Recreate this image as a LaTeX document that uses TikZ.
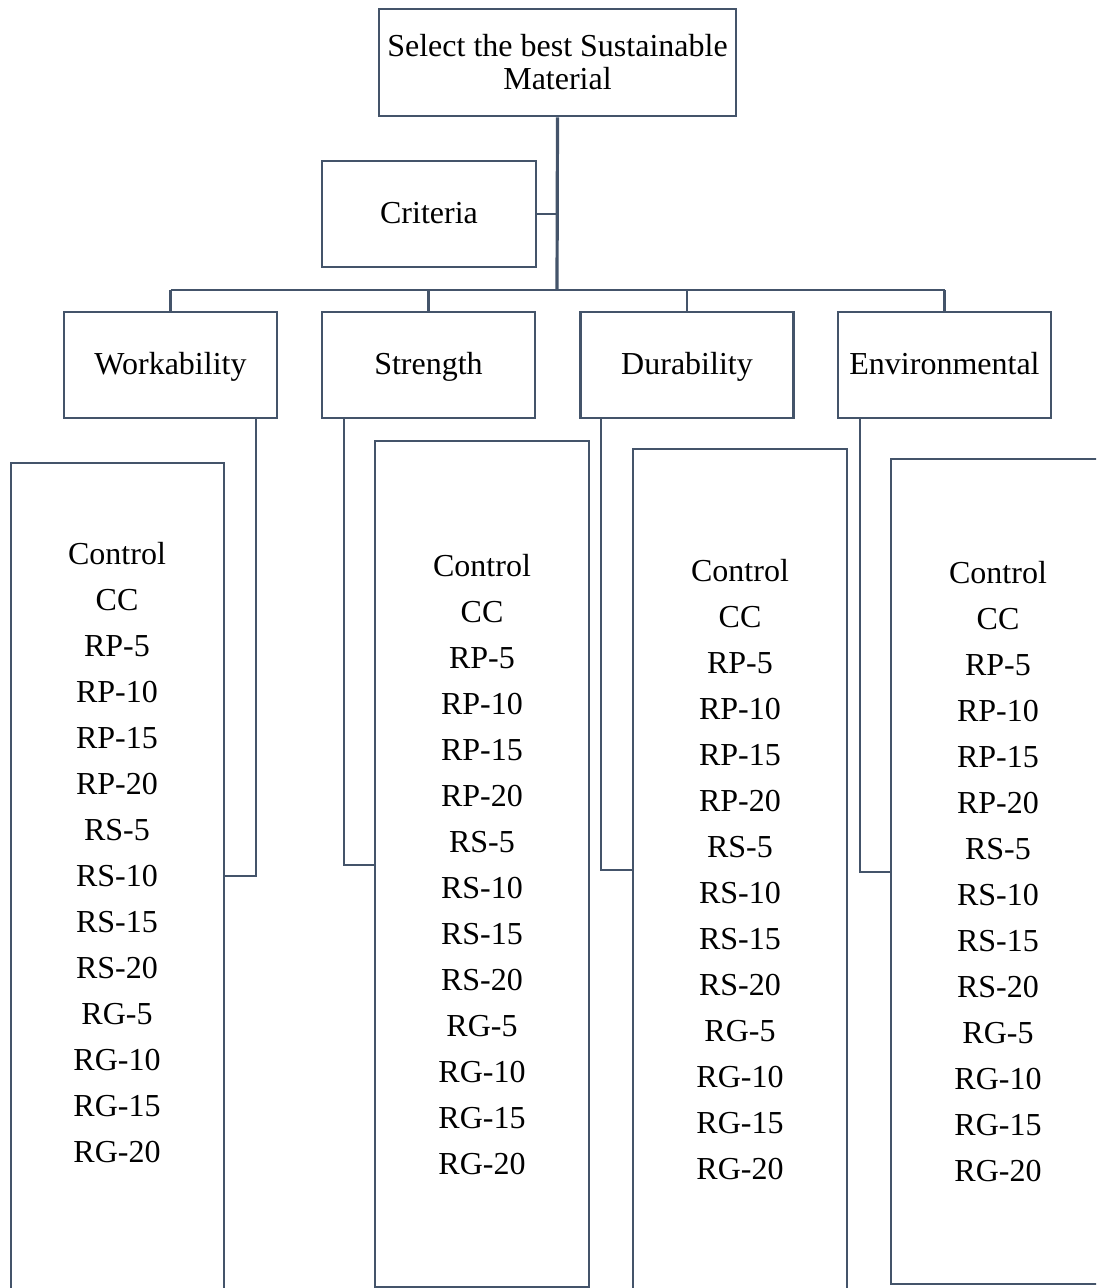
\documentclass[tikz,border=0pt]{standalone}
\usepackage{fontspec}
\setmainfont{Liberation Serif}
\usepackage{xcolor}
\usepackage{tikz}
\definecolor{slate}{HTML}{44546A}
\newcommand{\mixlist}{Control\\CC\\RP-5\\RP-10\\RP-15\\RP-20\\RS-5\\RS-10\\RS-15\\RS-20\\RG-5\\RG-10\\RG-15\\RG-20}

\begin{document}
\begin{tikzpicture}[x=1pt,y=-1pt]
    \tikzstyle{box}=[draw=slate,line width=2.6pt,rectangle,fill=white,inner sep=0pt,minimum width=213pt,minimum height=106pt,font=\fontsize{32}{33}\selectfont,align=center]
    \tikzstyle{cat}=[box,text height=25pt,text depth=6pt]
    \tikzstyle{listbox}=[draw=slate,line width=2.6pt,rectangle,inner sep=0pt,minimum width=213pt]
    \tikzstyle{items}=[align=center,inner sep=0pt,font=\fontsize{32}{46}\selectfont]
    \tikzstyle{link}=[draw=slate,line width=2.6pt]

    \useasboundingbox (0,0) rectangle (1096,1288);
    \clip (0,0) rectangle (1096,1288);

    \node[box,minimum width=357pt,minimum height=107pt] (top) at (557.5,62.5) {Select the best Sustainable\\Material};
    \node[cat,minimum width=214pt] (crit) at (429,214) {Criteria};

    \node[cat] (c1) at (170.5,365) {Workability};
    \node[cat] (c2) at (428.5,365) {Strength};
    \node[cat] (c3) at (687,365) {Durability};
    \node[cat] (c4) at (944.5,365) {Environmental};

    \node[listbox,minimum height=847pt] (l1) at (117.5,886.5) {};
    \node[listbox,minimum height=846pt,minimum width=214pt] (l2) at (482,864) {};
    \node[listbox,minimum height=861pt,minimum width=214pt] (l3) at (740,879.5) {};
    \node[listbox,minimum height=825pt,minimum width=219pt] (l4) at (1000.5,871.5) {};

    \node[items] (t1) at (117,852.5) {\mixlist};
    \node[items] (t2) at (482,865) {\mixlist};
    \node[items] (t3) at (740,869.5) {\mixlist};
    \node[items] (t4) at (998,871.5) {\mixlist};

    % trunk and bus
    \coordinate (bus) at (557,290);
    \path[link,line width=3.2pt] (top.south) -- (bus);
    \path[link] (crit.east) -- (crit.east -| bus);
    \path[link] (c1.north |- bus) -- (c4.north |- bus);
    \path[link] (c1.north) -- (c1.north |- bus);
    \path[link] (c2.north) -- (c2.north |- bus);
    \path[link] (c3.north) -- (c3.north |- bus);
    \path[link] (c4.north) -- (c4.north |- bus);

    % criteria to alternatives
    \coordinate (j1) at (256,876);
    \coordinate (j2) at (344,865);
    \coordinate (j3) at (601,870);
    \coordinate (j4) at (860,872);
    \path[link] (c1.south -| j1) -- (j1) -- (j1 -| l1.east);
    \path[link] (c2.south -| j2) -- (j2) -- (j2 -| l2.west);
    \path[link] (c3.south -| j3) -- (j3) -- (j3 -| l3.west);
    \path[link] (c4.south -| j4) -- (j4) -- (j4 -| l4.west);
\end{tikzpicture}
\end{document}
